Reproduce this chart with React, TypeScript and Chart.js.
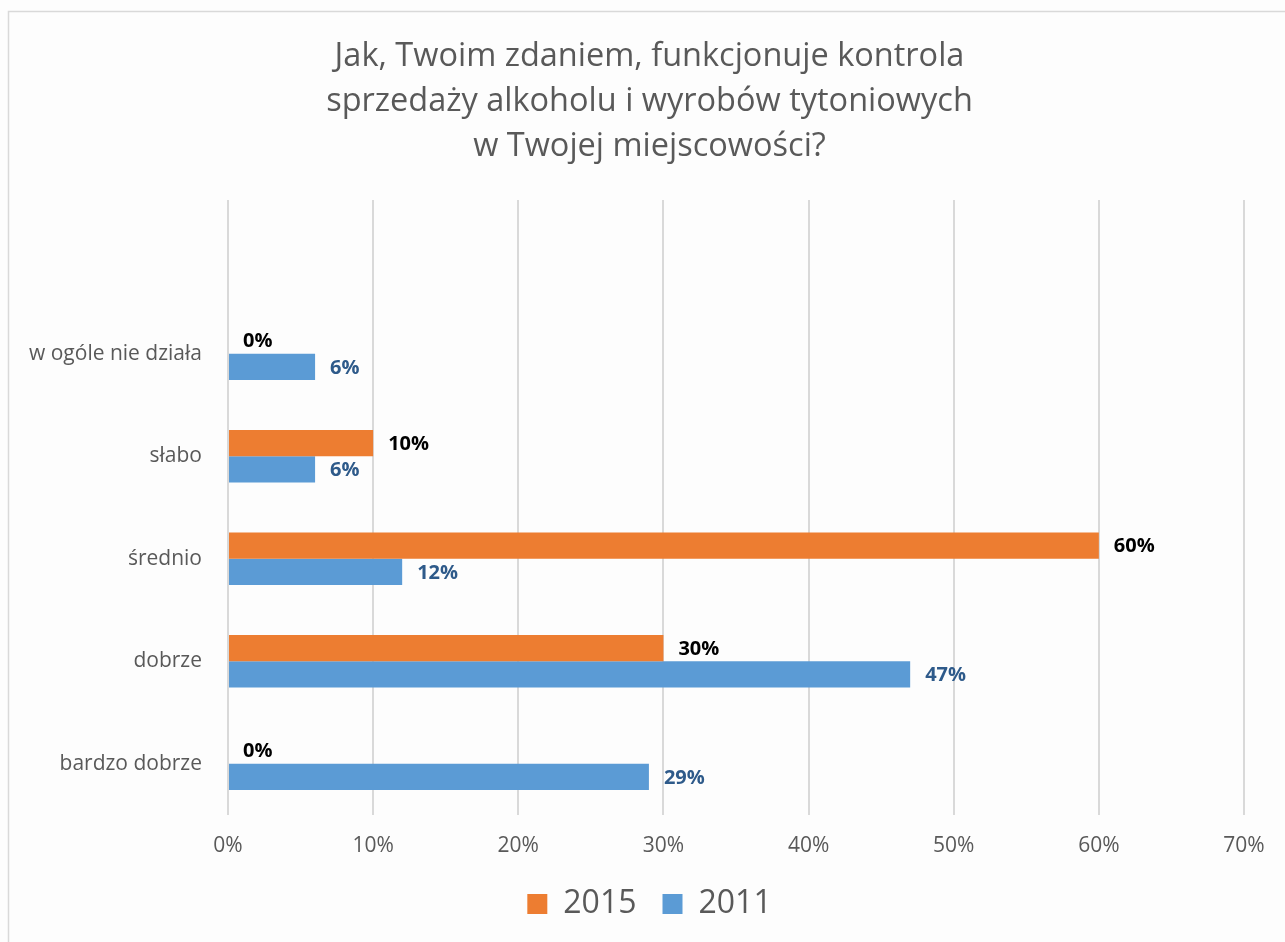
import React, { useEffect, useRef } from "react";
import { Chart, registerables } from "chart.js";

Chart.register(...registerables);

const categories = ["", "w ogóle nie działa", "słabo", "średnio", "dobrze", "bardzo dobrze"];
const values2015 = [null, 0, 10, 60, 30, 0];
const values2011 = [null, 6, 6, 12, 47, 29];
const xTicks = [0, 10, 20, 30, 40, 50, 60, 70];
const titleLines = [
  "Jak, Twoim zdaniem, funkcjonuje kontrola",
  "sprzedaży alkoholu i wyrobów tytoniowych",
  "w Twojej miejscowości?",
];
const seriesNames = ["2015", "2011"];

const FONT = "'Open Sans', 'Noto Sans', sans-serif";

const borderPlugin = {
  id: "frameBorder",
  beforeDraw(chart: any) {
    const ctx = chart.ctx;
    ctx.save();
    ctx.fillStyle = "#fdfdfd";
    ctx.fillRect(0, 0, chart.width, chart.height);
    ctx.strokeStyle = "#d9d9d9";
    ctx.lineWidth = 1.5;
    ctx.beginPath();
    ctx.moveTo(8.5, chart.height);
    ctx.lineTo(8.5, 11.5);
    ctx.lineTo(chart.width, 11.5);
    ctx.stroke();
    ctx.restore();
  },
};

const labelPlugin = {
  id: "valueLabels",
  afterDatasetsDraw(chart: any) {
    const ctx = chart.ctx;
    ctx.save();
    ctx.font = `bold 20px ${FONT}`;
    ctx.textBaseline = "middle";
    ctx.textAlign = "left";
    chart.data.datasets.forEach((ds: any, di: number) => {
      const meta = chart.getDatasetMeta(di);
      ctx.fillStyle = di === 0 ? "#000000" : "#2E5A8A";
      meta.data.forEach((bar: any, i: number) => {
        const v = ds.data[i];
        if (v === null || v === undefined) return;
        ctx.fillText(`${v}%`, bar.x + 15, bar.y + 1);
      });
    });
    ctx.restore();
  },
};

export default function App() {
  const ref = useRef<HTMLCanvasElement>(null);
  useEffect(() => {
    if (!ref.current) return;
    const chart = new Chart(ref.current, {
      type: "bar",
      data: {
        labels: categories,
        datasets: [
          {
            label: seriesNames[0],
            data: values2015 as any,
            backgroundColor: "#ED7D31",
            categoryPercentage: 0.51,
            barPercentage: 1,
          },
          {
            label: seriesNames[1],
            data: values2011 as any,
            backgroundColor: "#5B9BD5",
            categoryPercentage: 0.51,
            barPercentage: 1,
          },
        ],
      },
      options: {
        indexAxis: "y",
        responsive: false,
        animation: false,
        layout: { padding: { left: 14, right: 0, top: 0, bottom: 12 } },
        scales: {
          x: {
            min: 0,
            max: 70,
            afterBuildTicks: (scale: any) => {
              scale.ticks = xTicks.map((v) => ({ value: v }));
            },
            afterFit: (scale: any) => {
              scale.height = 47;
            },
            grid: { color: "#d9d9d9", lineWidth: 2, drawTicks: false },
            border: { display: false },
            ticks: {
              padding: 18,
              color: "#595959",
              font: { family: FONT, size: 21 },
              callback: (v: any) => `${v}%`,
            },
          },
          y: {
            grid: { display: false, drawTicks: false },
            border: { display: false },
            afterFit: (scale: any) => {
              scale.width = 214;
            },
            ticks: {
              padding: 26,
              color: "#595959",
              font: { family: FONT, size: 21 },
            },
          },
          y2: {
            type: "category",
            position: "right",
            labels: categories,
            grid: { display: false, drawTicks: false },
            border: { display: false },
            ticks: { display: false },
            afterFit: (scale: any) => {
              scale.width = 41;
            },
          },
        },
        plugins: {
          title: {
            display: true,
            text: titleLines,
            color: "#595959",
            font: { family: FONT, size: 32.5, weight: "normal", lineHeight: 45 / 32.5 },
            padding: { top: 34.5, bottom: 30.5 },
          },
          legend: {
            position: "bottom",
            labels: {
              color: "#595959",
              font: { family: FONT, size: 32 },
              boxWidth: 20,
              boxHeight: 20,
              padding: 26,
            },
          },
          tooltip: { enabled: false },
        },
      },
      plugins: [borderPlugin, labelPlugin],
    });
    return () => chart.destroy();
  }, []);
  return (
    <div style={{ position: "fixed", left: 0, top: 0, width: 1285, height: 942 }}>
      <canvas ref={ref} width={1285} height={942} style={{ display: "block" }} />
    </div>
  );
}
